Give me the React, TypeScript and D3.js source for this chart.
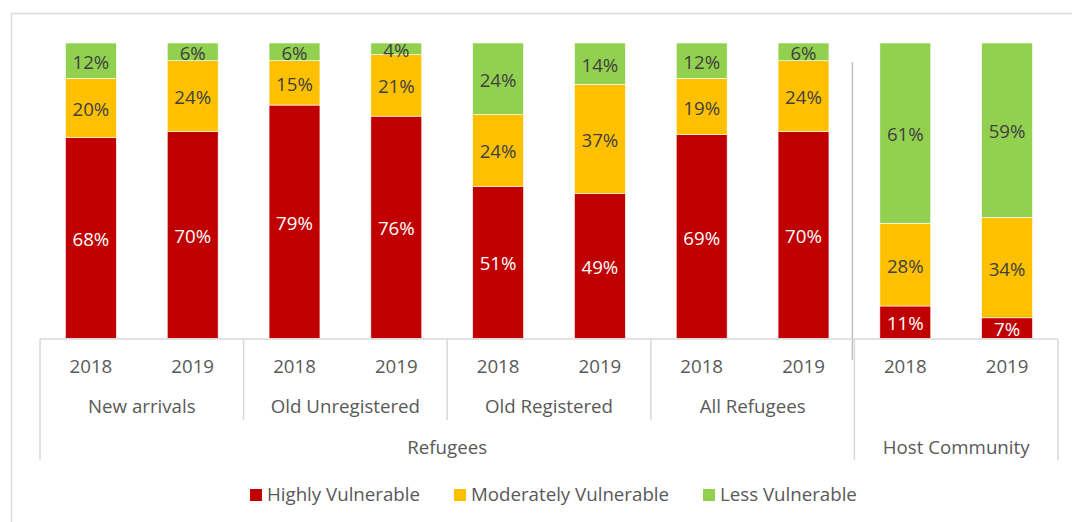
import React from "react";
import * as d3 from "d3";

const categories = [
  "New arrivals|2018", "New arrivals|2019",
  "Old Unregistered|2018", "Old Unregistered|2019",
  "Old Registered|2018", "Old Registered|2019",
  "All Refugees|2018", "All Refugees|2019",
  "Host Community|2018", "Host Community|2019",
];
const years = ["2018", "2019", "2018", "2019", "2018", "2019", "2018", "2019", "2018", "2019"];
const subGroups = ["New arrivals", "Old Unregistered", "Old Registered", "All Refugees", ""];
const topGroups = ["Refugees", "Host Community"];
const seriesNames = ["Highly Vulnerable", "Moderately Vulnerable", "Less Vulnerable"];
const highly = [68, 70, 79, 76, 51, 49, 69, 70, 11, 7];
const moderately = [20, 24, 15, 21, 24, 37, 19, 24, 28, 34];
const less = [12, 6, 6, 4, 24, 14, 12, 6, 61, 59];
const colors = ["#C00000", "#FFC000", "#92D050"];

const W = 1072;
const H = 522;
const left = 40;
const right = 1058;
const top = 43;
const bottom = 338.5;
const font = "'Open Sans', 'Noto Sans', sans-serif";
const axisColor = "#595959";
const gridColor = "#d9d9d9";
const fs = 18.7;

export default function App() {
  const x = d3.scaleBand<string>().domain(categories).range([left, right]).paddingInner(0.5).paddingOuter(0.25);
  const y = d3.scaleLinear().domain([0, 1]).range([bottom, top]);
  const rows = categories.map((c, i) => ({ cat: c, h: highly[i], m: moderately[i], l: less[i] }));
  const stack = d3.stack<any>().keys(["h", "m", "l"]).offset(d3.stackOffsetExpand);
  const series = stack(rows);
  const step = x.step();
  const bandStart = (i: number) => left + i * step;
  const sepX = bandStart(8);

  const legendItems = [
    { name: seriesNames[0], x: 250 },
    { name: seriesNames[1], x: 454 },
    { name: seriesNames[2], x: 703 },
  ];

  return (
    <svg width={W} height={H} style={{ position: "absolute", left: 0, top: 0, background: "#fff" }} fontFamily={font}>
      <rect x={11.5} y={13.5} width={W + 20} height={H + 20} fill="#fff" stroke={gridColor} strokeWidth={1.5} />
      {series.map((s, si) => (
        <g key={si}>
          {s.map((d, i) => {
            const x0 = x(categories[i])!;
            const y0 = y(d[1]);
            const y1 = y(d[0]);
            const val = [highly, moderately, less][si][i];
            return (
              <g key={i}>
                <rect x={x0} y={y0} width={x.bandwidth()} height={y1 - y0} fill={colors[si]} stroke="#fff" strokeWidth={0.6} />
                <text
                  x={x0 + x.bandwidth() / 2}
                  y={(y0 + y1) / 2 + 0.5}
                  textAnchor="middle"
                  dominantBaseline="central"
                  fontSize={fs}
                  fill={si === 0 ? "#ffffff" : "#404040"}
                >
                  {val}%
                </text>
              </g>
            );
          })}
        </g>
      ))}
      {/* separator in plot */}
      <line x1={sepX - 2} x2={sepX - 2} y1={62} y2={360} stroke="#bfbfbf" strokeWidth={1.5} />
      {/* axis */}
      <line x1={left} x2={right} y1={339} y2={339} stroke={gridColor} strokeWidth={1.5} />
      {[0, 2, 4, 6].map((i) => (
        <line key={"s" + i} x1={bandStart(i)} x2={bandStart(i)} y1={339} y2={i === 0 ? 460 : 420} stroke={gridColor} strokeWidth={1.5} />
      ))}
      {[8, 10].map((i) => (
        <line key={"t" + i} x1={bandStart(i)} x2={bandStart(i)} y1={339} y2={460} stroke={gridColor} strokeWidth={1.5} />
      ))}
      {categories.map((c, i) => (
        <text key={"y" + i} x={x(c)! + x.bandwidth() / 2} y={372.5} textAnchor="middle" fontSize={fs} fill={axisColor}>
          {years[i]}
        </text>
      ))}
      {subGroups.map((g, i) => (
        <text key={"g" + i} x={bandStart(i * 2) + step} y={413} textAnchor="middle" fontSize={fs} fill={axisColor}>
          {g}
        </text>
      ))}
      <text x={(left + sepX) / 2} y={453.5} textAnchor="middle" fontSize={fs} fill={axisColor}>
        {topGroups[0]}
      </text>
      <text x={(sepX + right) / 2} y={453.5} textAnchor="middle" fontSize={fs} fill={axisColor}>
        {topGroups[1]}
      </text>
      {legendItems.map((it, i) => (
        <g key={"l" + i}>
          <rect x={it.x} y={489} width={12} height={12} fill={colors[i]} />
          <text x={it.x + 17} y={500.5} fontSize={fs} fill={axisColor}>
            {it.name}
          </text>
        </g>
      ))}
    </svg>
  );
}
